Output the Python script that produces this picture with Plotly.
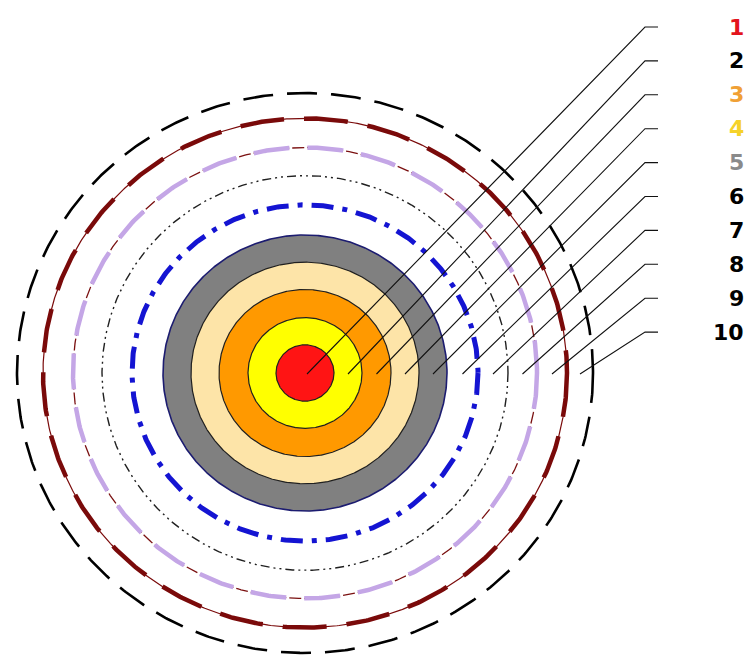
import numpy as np
import plotly.graph_objects as go

# ---- data ----
labels = ["1", "2", "3", "4", "5", "6", "7", "8", "9", "10"]
radii = [29, 57, 86, 114, 142, 173, 203, 232, 262, 288]          # outer radius of each ring
fill_colors = ["#ff1414", "#ffff00", "#ff9900", "#fde4a8", "#808080"]
label_colors = ["#e3141c", "#000000", "#f0a035", "#f5d22a", "#8a8a8a",
                "#000000", "#000000", "#000000", "#000000", "#000000"]

# ---- layout constants ----
W, H = 747, 660
CX, CY = 305, 373
ASPECT = 0.972           # vertical squash of the rings
LABEL_TOP, LABEL_STEP = 27, 33.9
LEAD_X0, LEAD_X1, LABEL_X = 645, 658, 746

theta = np.linspace(0, 2 * np.pi, 721)


def ring(r):
    return CX + r * np.cos(theta), CY + r * ASPECT * np.sin(theta)


fig = go.Figure()

# filled discs (largest first)
n_fill = len(fill_colors)
for i in reversed(range(n_fill)):
    x, y = ring(radii[i])
    fig.add_trace(go.Scatter(
        x=x, y=y, mode="lines", fill="toself", fillcolor=fill_colors[i],
        line=dict(color="#1c1c70" if i == n_fill - 1 else "#202020", width=1.6 if i == n_fill - 1 else 1.2),
        hoverinfo="skip", showlegend=False))

# dashed rings
styles = [
    (5, [("#1414d2", 5, "22px,9px,5px,9px")]),
    (6, [("#202020", 1.4, "9px,4px,2px,4px,2px,4px")]),
    (7, [("#7a1010", 1.3, "36px,3px,12px,3px"), ("#c4a6e6", 4.5, "36px,18px")]),
    (8, [("#7a0a0a", 1.2, "solid"), ("#7a0a0a", 4.5, "44px,20px")]),
    (9, [("#000000", 2.6, "30px,14px")]),
]
for idx, parts in styles:
    x, y = ring(radii[idx])
    for col, w, dash in parts:
        fig.add_trace(go.Scatter(x=x, y=y, mode="lines",
                                 line=dict(color=col, width=w, dash=dash),
                                 hoverinfo="skip", showlegend=False))

# leader lines
lx, ly = [], []
for i in range(len(labels)):
    if i == 0:
        sx = CX + 2
    else:
        sx = CX + (radii[i - 1] + radii[i]) / 2
    sy = CY + 1
    ey = LABEL_TOP + LABEL_STEP * i
    lx += [sx, LEAD_X0, LEAD_X1, None]
    ly += [sy, ey, ey, None]
fig.add_trace(go.Scatter(x=lx, y=ly, mode="lines",
                         line=dict(color="#111111", width=1.1),
                         hoverinfo="skip", showlegend=False))

# labels
for i, t in enumerate(labels):
    fig.add_annotation(
        x=LABEL_X, y=LABEL_TOP + LABEL_STEP * i, text="<b>%s</b>" % t,
        xanchor="right", yanchor="middle", showarrow=False,
        font=dict(family="DejaVu Sans", size=22, color=label_colors[i]))

fig.update_layout(
    width=W, height=H, margin=dict(l=0, r=0, t=0, b=0),
    paper_bgcolor="white", plot_bgcolor="white",
    xaxis=dict(range=[0, W], visible=False, fixedrange=True),
    yaxis=dict(range=[H, 0], visible=False, fixedrange=True),
)

fig.write_html("out.html", config={"displayModeBar": False},
               post_script="document.body.style.margin='0';")
